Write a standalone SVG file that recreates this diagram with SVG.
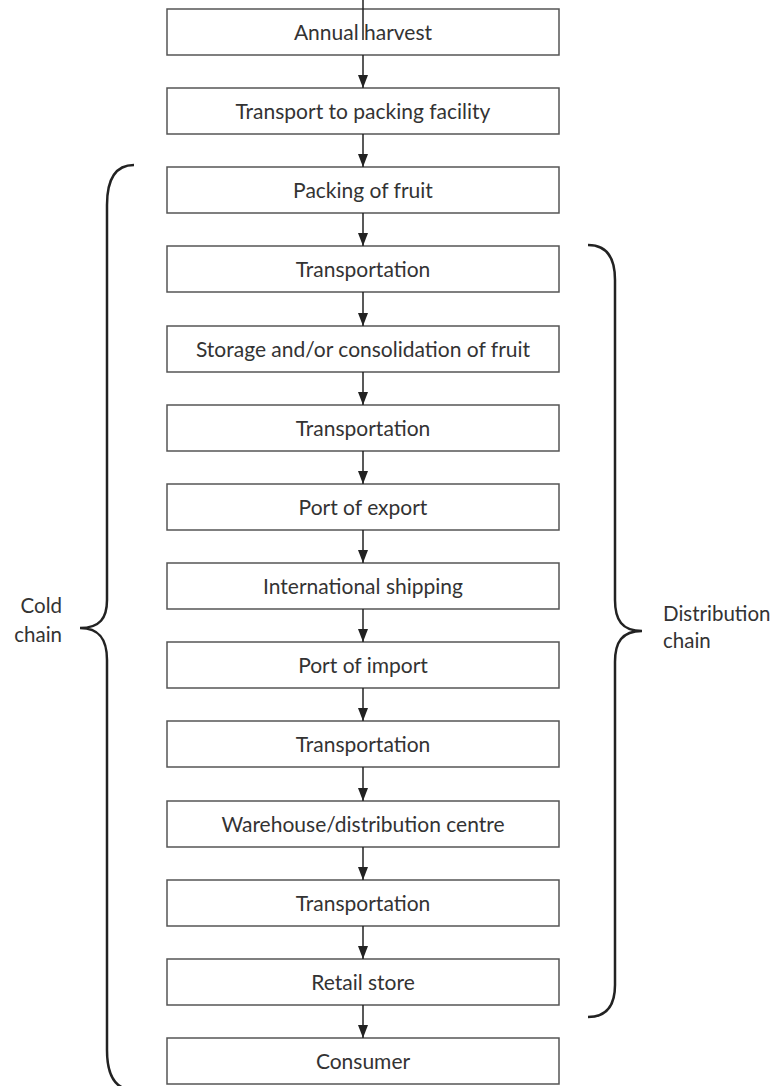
<svg xmlns="http://www.w3.org/2000/svg" width="776" height="1086" viewBox="0 0 776 1086">
<style>
.box{fill:#fff;stroke:#555;stroke-width:1.5}
.lbl{font-family:Lato,"Liberation Sans",sans-serif;font-size:21px;fill:#333;text-anchor:middle}
.side{font-family:Lato,"Liberation Sans",sans-serif;font-size:20.5px;fill:#333}
.conn{stroke:#222;stroke-width:1.5;fill:none}
.brace{stroke:#222;stroke-width:2.5;fill:none}
</style>
<defs>
<marker id="ah" markerWidth="13" markerHeight="10" refX="13" refY="5" orient="auto" markerUnits="userSpaceOnUse">
<path d="M0,0 L13,5 L0,10 Z" fill="#222"/>
</marker>
</defs>
<rect width="776" height="1086" fill="#fff"/>
<g id="n1"><rect class="box" x="167" y="9" width="392" height="46"/><text class="lbl" x="363" y="40">Annual harvest</text></g>
<g id="n2"><rect class="box" x="167" y="88" width="392" height="46"/><text class="lbl" x="363" y="119">Transport to packing facility</text></g>
<g id="n3"><rect class="box" x="167" y="167" width="392" height="46"/><text class="lbl" x="363" y="198">Packing of fruit</text></g>
<g id="n4"><rect class="box" x="167" y="246" width="392" height="46"/><text class="lbl" x="363" y="277">Transportation</text></g>
<g id="n5"><rect class="box" x="167" y="326" width="392" height="46"/><text class="lbl" x="363" y="357">Storage and/or consolidation of fruit</text></g>
<g id="n6"><rect class="box" x="167" y="405" width="392" height="46"/><text class="lbl" x="363" y="436">Transportation</text></g>
<g id="n7"><rect class="box" x="167" y="484" width="392" height="46"/><text class="lbl" x="363" y="515">Port of export</text></g>
<g id="n8"><rect class="box" x="167" y="563" width="392" height="46"/><text class="lbl" x="363" y="594">International shipping</text></g>
<g id="n9"><rect class="box" x="167" y="642" width="392" height="46"/><text class="lbl" x="363" y="673">Port of import</text></g>
<g id="n10"><rect class="box" x="167" y="721" width="392" height="46"/><text class="lbl" x="363" y="752">Transportation</text></g>
<g id="n11"><rect class="box" x="167" y="801" width="392" height="46"/><text class="lbl" x="363" y="832">Warehouse/distribution centre</text></g>
<g id="n12"><rect class="box" x="167" y="880" width="392" height="46"/><text class="lbl" x="363" y="911">Transportation</text></g>
<g id="n13"><rect class="box" x="167" y="959" width="392" height="46"/><text class="lbl" x="363" y="990">Retail store</text></g>
<g id="n14"><rect class="box" x="167" y="1038" width="392" height="46"/><text class="lbl" x="363" y="1069">Consumer</text></g>
<g id="connectors">
<line class="conn" x1="363" y1="0" x2="363" y2="40" stroke-width="1"/>
<line class="conn" x1="363" y1="55" x2="363" y2="88" marker-end="url(#ah)"/>
<line class="conn" x1="363" y1="134" x2="363" y2="167" marker-end="url(#ah)"/>
<line class="conn" x1="363" y1="213" x2="363" y2="246" marker-end="url(#ah)"/>
<line class="conn" x1="363" y1="292" x2="363" y2="326" marker-end="url(#ah)"/>
<line class="conn" x1="363" y1="372" x2="363" y2="405" marker-end="url(#ah)"/>
<line class="conn" x1="363" y1="451" x2="363" y2="484" marker-end="url(#ah)"/>
<line class="conn" x1="363" y1="530" x2="363" y2="563" marker-end="url(#ah)"/>
<line class="conn" x1="363" y1="609" x2="363" y2="642" marker-end="url(#ah)"/>
<line class="conn" x1="363" y1="688" x2="363" y2="721" marker-end="url(#ah)"/>
<line class="conn" x1="363" y1="767" x2="363" y2="801" marker-end="url(#ah)"/>
<line class="conn" x1="363" y1="847" x2="363" y2="880" marker-end="url(#ah)"/>
<line class="conn" x1="363" y1="926" x2="363" y2="959" marker-end="url(#ah)"/>
<line class="conn" x1="363" y1="1005" x2="363" y2="1038" marker-end="url(#ah)"/>
</g>
<g id="cold-chain">
<path class="brace" d="M134,165 C115,165 107,180 107,205 L107,600 C107,618 100,628 80,628 C100,628 107,640 107,660 L107,1050 C107,1075 115,1090 134,1090"/>
<text class="side" x="62" y="613" text-anchor="end">Cold</text>
<text class="side" x="62" y="642" text-anchor="end">chain</text>
</g>
<g id="distribution-chain">
<path class="brace" d="M588,245 C605,245 615,255 615,280 L615,600 C615,620 622,631 642,631 C622,631 615,642 615,662 L615,985 C615,1007 605,1017 588,1017"/>
<text class="side" x="663" y="621">Distribution</text>
<text class="side" x="663" y="648">chain</text>
</g>
</svg>
